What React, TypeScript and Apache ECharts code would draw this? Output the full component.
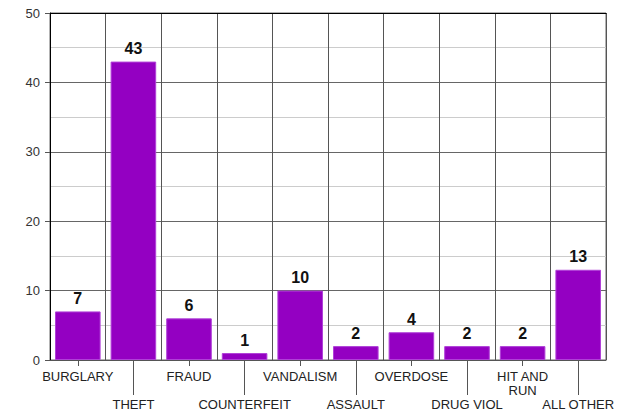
import React, { useEffect, useRef } from "react";
import * as echarts from "echarts";

const categories = ["BURGLARY", "THEFT", "FRAUD", "COUNTERFEIT", "VANDALISM", "ASSAULT", "OVERDOSE", "DRUG VIOL", "HIT AND\nRUN", "ALL OTHER"];
const values = [7, 43, 6, 1, 10, 2, 4, 2, 2, 13];
const yTicks = { min: 0, max: 50, interval: 10 };

export default function App() {
  const ref = useRef<HTMLDivElement>(null);
  useEffect(() => {
    const chart = echarts.init(ref.current!, null, { renderer: "svg" });
    const font = "'Liberation Sans', Arial, sans-serif";
    chart.setOption({
      animation: false,
      grid: { left: 50, right: 26, top: 13, bottom: 56, show: true, borderColor: "#666", borderWidth: 1 },
      xAxis: [
        {
          type: "category",
          data: categories,
          position: "bottom",
          axisLine: { show: true, lineStyle: { color: "#555", width: 1 } },
          axisTick: { show: true, alignWithLabel: true, length: 6, interval: (i: number) => i % 2 === 0, lineStyle: { color: "#555" } },
          splitLine: { show: true, interval: 0, lineStyle: { color: "#555", width: 1 } },
          axisLabel: {
            interval: 0,
            margin: 9,
            fontFamily: font,
            fontSize: 13,
            lineHeight: 14,
            verticalAlign: "top",
            align: "center",
            color: "#222",
            formatter: (v: string, i: number) => (i % 2 === 1 ? "\n\n" + v : v),
          },
        },
        {
          type: "category",
          data: categories,
          position: "bottom",
          axisLine: { show: false },
          axisTick: { show: true, alignWithLabel: true, length: 35, interval: (i: number) => i % 2 === 1, lineStyle: { color: "#555" } },
          splitLine: { show: false },
          axisLabel: { show: false },
        },
        {
          type: "category",
          data: categories,
          position: "top",
          axisLine: { show: true, lineStyle: { color: "#000", width: 1 } },
          axisTick: { show: false },
          splitLine: { show: false },
          axisLabel: { show: false },
        },
      ],
      yAxis: {
        type: "value",
        min: yTicks.min,
        max: yTicks.max,
        interval: yTicks.interval,
        axisLine: { show: true, lineStyle: { color: "#000", width: 1 } },
        axisTick: { show: true, length: 5, lineStyle: { color: "#555" } },
        axisLabel: { margin: 10, fontFamily: font, fontSize: 13, color: "#333" },
        splitLine: { show: true, lineStyle: { color: "#666", width: 1 } },
        minorTick: { show: false, splitNumber: 2 },
        minorSplitLine: { show: true, lineStyle: { color: "#ccc", width: 1 } },
      },
      series: [
        {
          type: "bar",
          data: values,
          xAxisIndex: 0,
          barCategoryGap: "18%",
          itemStyle: { color: "#9400c2", borderColor: "#b040d8", borderWidth: 1 },
          label: { show: true, position: "top", distance: 5, fontFamily: font, fontSize: 16, fontWeight: "bold", color: "#111" },
        },
      ],
    });
    return () => chart.dispose();
  }, []);
  return <div ref={ref} style={{ width: 632, height: 416, position: "absolute", left: 0, top: 0 }} />;
}
